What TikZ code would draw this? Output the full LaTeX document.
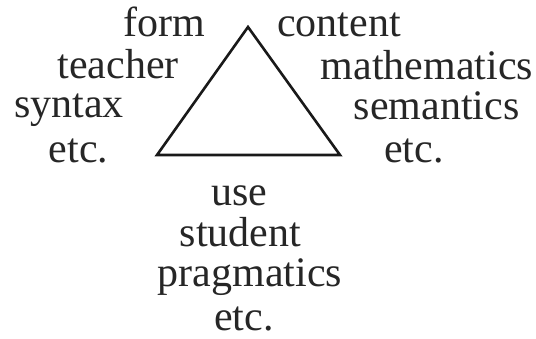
\documentclass[tikz,border=0pt]{standalone}
\usepackage{fontspec}
\setmainfont{Liberation Serif}
\begin{document}
\begin{tikzpicture}[x=1pt,y=1pt,
  lbl/.style={inner sep=0pt,anchor=base,text=black!85,font=\fontsize{42}{42}\selectfont},
  tri/.style={draw=black!90,line width=2.6pt,line join=miter}]
\useasboundingbox (0,0) rectangle (536,339);
\coordinate (T) at (248,312);
\coordinate (L) at (157,184);
\coordinate (R) at (340,184);
\draw[tri] (T) -- (L) -- (R) -- cycle;
\node[lbl] (form) at (164.5,302) {form};
\node[lbl] (teacher) at (118,260) {teacher};
\node[lbl] (syntax) at (69,221) {syntax};
\node[lbl] (etcL) at (78.5,176) {etc.};
\node[lbl] (content) at (339,302) {content};
\node[lbl] (math) at (427,259) {mathematics};
\node[lbl] (sem) at (436.5,219) {semantics};
\node[lbl] (etcR) at (414,176) {etc.};
\node[lbl] (use) at (239.5,133) {use};
\node[lbl] (student) at (240.5,92) {student};
\node[lbl] (prag) at (250,52) {pragmatics};
\node[lbl] (etcB) at (244,8) {etc.};
\end{tikzpicture}
\end{document}
